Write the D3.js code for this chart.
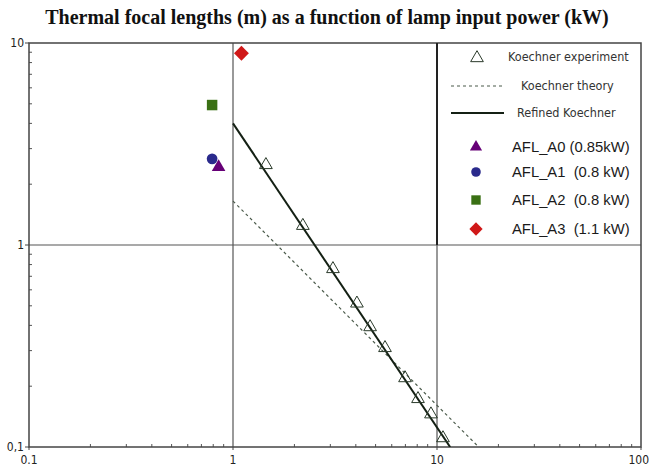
<!DOCTYPE html>
<html>
<head>
<meta charset="utf-8">
<script src="https://d3js.org/d3.v7.min.js"></script>
<style>
  body { margin: 0; background: #fff; }
  svg { display: block; }
</style>
</head>
<body>
<div id="chart-area"></div>
<script>
// lamp power (kW) vs thermal focal length (m)
var expPower = [1.45, 2.2, 3.09, 4.05, 4.7, 5.56, 6.97, 8.07, 9.34, 10.7]
var expFocal = [2.52, 1.26, 0.77, 0.52, 0.397, 0.313, 0.222, 0.175, 0.147, 0.112]

var theoryPower = [1, 16]
var theoryFocal = [1.65, 0.1]
var refinedPower = [1, 11.6]
var refinedFocal = [4.0, 0.1]

var aflNames = ["AFL_A0 (0.85kW)", "AFL_A1  (0.8 kW)", "AFL_A2  (0.8 kW)", "AFL_A3  (1.1 kW)"]
var aflPower = [0.85, 0.79, 0.79, 1.1]
var aflFocal = [2.43, 2.67, 4.93, 8.9]
var aflColors = ["#660077", "#2a2a8c", "#3a7014", "#d01818"]
var aflShapes = [d3.symbolTriangle, d3.symbolCircle, d3.symbolSquare, d3.symbolSquare]
var aflRotate = [0, 0, 0, 45]

var xTicks = [0.1, 1, 10, 100]
var xTickLabels = ["0.1", "1", "10", "100"]
var yTicks = [0.1, 1, 10]
var yTickLabels = ["0,1", "1", "10"]

var W = 649, H = 468
var mLeft = 29, mRight = 641, mTop = 43, mBottom = 447
var narrow = "'Liberation Sans Narrow', 'Arial Narrow', 'DejaVu Sans Condensed', sans-serif"
var gridCol = "#555"

var svg = d3.select("#chart-area").append("svg")
    .attr("width", W).attr("height", H)

var x = d3.scaleLog().domain([0.1, 100]).range([mLeft, mRight])
var y = d3.scaleLog().domain([0.1, 10]).range([mBottom, mTop])

svg.append("text")
    .attr("x", 327).attr("y", 24)
    .attr("text-anchor", "middle")
    .attr("font-family", "'Liberation Serif', 'Times New Roman', serif")
    .attr("font-weight", "bold")
    .attr("font-size", "20px")
    .attr("fill", "#111")
    .text("Thermal focal lengths (m) as a function of lamp input power (kW)")

// minor ticks
var minorX = [], minorY = []
;[0.1, 1, 10].forEach(function(d) { for (var k = 2; k < 10; k++) minorX.push(d * k) })
;[0.1, 1].forEach(function(d) { for (var k = 2; k < 10; k++) minorY.push(d * k) })

svg.selectAll(".mx").data(minorX).enter().append("line")
    .attr("x1", d => x(d)).attr("x2", d => x(d))
    .attr("y1", mBottom).attr("y2", mBottom - 3)
    .attr("stroke", gridCol).attr("stroke-width", 1)
svg.selectAll(".my").data(minorY).enter().append("line")
    .attr("y1", d => y(d)).attr("y2", d => y(d))
    .attr("x1", mLeft).attr("x2", mLeft + 3)
    .attr("stroke", gridCol).attr("stroke-width", 1)

// grid lines at 1 and 10
svg.append("line")
    .attr("x1", x(1)).attr("x2", x(1)).attr("y1", mTop).attr("y2", mBottom)
    .attr("stroke", gridCol).attr("stroke-width", 1.2)
svg.append("line")
    .attr("x1", x(10)).attr("x2", x(10)).attr("y1", y(1)).attr("y2", mBottom)
    .attr("stroke", gridCol).attr("stroke-width", 1.2)
svg.append("line")
    .attr("x1", mLeft).attr("x2", mRight).attr("y1", y(1)).attr("y2", y(1))
    .attr("stroke", gridCol).attr("stroke-width", 1.2)

// frame
svg.append("rect")
    .attr("x", mLeft).attr("y", mTop)
    .attr("width", mRight - mLeft).attr("height", mBottom - mTop)
    .attr("fill", "none").attr("stroke", "#444").attr("stroke-width", 1.5)

// major ticks
svg.selectAll(".tx").data(xTicks).enter().append("line")
    .attr("x1", d => x(d)).attr("x2", d => x(d))
    .attr("y1", mBottom).attr("y2", mBottom + 3)
    .attr("stroke", "#444")
svg.selectAll(".ty").data(yTicks).enter().append("line")
    .attr("y1", d => y(d)).attr("y2", d => y(d))
    .attr("x1", mLeft - 4).attr("x2", mLeft)
    .attr("stroke", "#444")

svg.selectAll(".lx").data(xTicks).enter().append("text")
    .attr("x", d => x(d)).attr("y", mBottom + 17)
    .attr("text-anchor", (d, i) => i == xTicks.length - 1 ? "end" : "middle")
    .attr("dx", (d, i) => i == xTicks.length - 1 ? 8 : 0)
    .attr("font-family", narrow).attr("font-size", "12px").attr("fill", "#222")
    .text((d, i) => xTickLabels[i])
svg.selectAll(".ly").data(yTicks).enter().append("text")
    .attr("x", mLeft - 5).attr("y", d => y(d) + 4)
    .attr("text-anchor", "end")
    .attr("font-family", narrow).attr("font-size", "12px").attr("fill", "#222")
    .text((d, i) => yTickLabels[i])

// legend box edge
var legX = x(10)
svg.append("line")
    .attr("x1", legX).attr("x2", legX).attr("y1", mTop).attr("y2", y(1))
    .attr("stroke", "#222").attr("stroke-width", 2)

svg.append("clipPath").attr("id", "clip").append("rect")
    .attr("x", mLeft).attr("y", mTop).attr("width", mRight - mLeft).attr("height", mBottom - mTop)
var plot = svg.append("g").attr("clip-path", "url(#clip)")

var line = d3.line().x(d => x(d[0])).y(d => y(d[1]))

plot.append("path")
    .datum(theoryPower.map((p, i) => [p, theoryFocal[i]]))
    .attr("d", line)
    .attr("fill", "none").attr("stroke", "#4a5a4a").attr("stroke-width", 1.2)
    .attr("stroke-dasharray", "3,3")

plot.append("path")
    .datum(refinedPower.map((p, i) => [p, refinedFocal[i]]))
    .attr("d", line)
    .attr("fill", "none").attr("stroke", "#142014").attr("stroke-width", 2)

var tri = d3.symbol().type(d3.symbolTriangle).size(70)
plot.selectAll(".exp").data(expPower).enter().append("path")
    .attr("d", tri)
    .attr("transform", (d, i) => "translate(" + x(d) + "," + (y(expFocal[i]) + 1) + ")")
    .attr("fill", "none").attr("stroke", "#2a3a2a").attr("stroke-width", 1)

var aflSizes = [80, 90, 110, 110]
aflPower.forEach(function(p, i) {
    plot.append("path")
        .attr("d", d3.symbol().type(aflShapes[i]).size(aflSizes[i]))
        .attr("transform", "translate(" + x(p) + "," + y(aflFocal[i]) + ") rotate(" + aflRotate[i] + ")")
        .attr("fill", aflColors[i])
})

// legend entries
svg.append("path")
    .attr("d", d3.symbol().type(d3.symbolTriangle).size(70))
    .attr("transform", "translate(477,58)")
    .attr("fill", "none").attr("stroke", "#2a3a2a")
svg.append("text").attr("x", 508).attr("y", 61)
    .attr("font-family", narrow).attr("font-size", "12.5px").attr("fill", "#333")
    .text("Koechner experiment")

svg.append("line").attr("x1", 451).attr("x2", 503).attr("y1", 86).attr("y2", 86)
    .attr("stroke", "#4a5a4a").attr("stroke-width", 1.2).attr("stroke-dasharray", "3,3")
svg.append("text").attr("x", 521).attr("y", 90)
    .attr("font-family", narrow).attr("font-size", "12.5px").attr("fill", "#333")
    .text("Koechner theory")

svg.append("line").attr("x1", 451).attr("x2", 504).attr("y1", 113).attr("y2", 113)
    .attr("stroke", "#142014").attr("stroke-width", 2)
svg.append("text").attr("x", 517).attr("y", 117)
    .attr("font-family", narrow).attr("font-size", "12.5px").attr("fill", "#333")
    .text("Refined Koechner")

var legY = [147, 172, 200, 229]
aflNames.forEach(function(n, i) {
    svg.append("path")
        .attr("d", d3.symbol().type(aflShapes[i]).size(aflSizes[i] * 0.8))
        .attr("transform", "translate(476," + legY[i] + ") rotate(" + aflRotate[i] + ")")
        .attr("fill", aflColors[i])
    svg.append("text").attr("x", 512).attr("y", legY[i] + 5)
        .attr("font-family", "'Liberation Sans', Arial, sans-serif")
        .attr("font-size", "14.8px").attr("fill", "#1a1a1a")
        .attr("xml:space", "preserve")
        .text(n)
})
</script>
</body>
</html>
